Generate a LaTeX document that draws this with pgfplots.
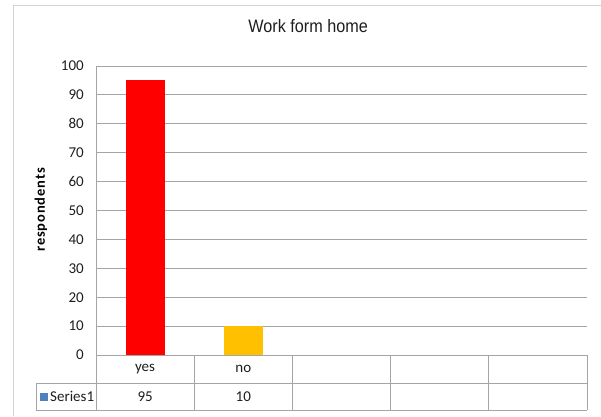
\documentclass[border=0pt]{standalone}
\usepackage{fontspec}
\setmainfont{Carlito}
\newfontfamily\titlefont{Liberation Sans}[FakeStretch=0.9]
\newfontfamily\labelfont{Carlito}[LetterSpace=6]
\usepackage{pgfplots}
\pgfplotsset{compat=1.18}
\definecolor{gridgray}{RGB}{165,165,165}
\definecolor{bordergray}{RGB}{210,210,210}
\definecolor{barred}{RGB}{255,0,0}
\definecolor{baryellow}{RGB}{255,192,0}
\definecolor{keyblue}{RGB}{79,129,189}
\definecolor{txt}{RGB}{30,30,30}
\begin{document}
\begin{tikzpicture}[x=1pt,y=1pt]
\useasboundingbox (0,0) rectangle (601,416);
\draw[bordergray, line width=1pt] (13,0) -- (13,410) -- (601,410);
\begin{axis}[
  at={(96pt,61pt)}, anchor=south west,
  width=491pt, height=289pt, scale only axis,
  xmin=-0.5, xmax=4.5, ymin=0, ymax=100,
  ytick={0,10,...,100}, xtick=\empty,
  axis x line*=bottom, axis y line*=left,
  axis line style={gridgray, line width=1pt, -},
  ymajorgrids, grid style={gridgray, line width=1pt},
  major tick length=0pt,
  /pgf/number format/assume math mode=true,
  yticklabel style={font=\fontsize{15}{17}\selectfont, text=txt, anchor=east, inner sep=0pt, xshift=-12pt},
  title={\titlefont Work form home},
  title style={at={(axis description cs:0.432,1.118)}, anchor=center, font=\fontsize{18}{21}\selectfont, text=txt},
  ylabel={\labelfont\bfseries respondents},
  ylabel style={at={(axis description cs:-0.112,0.502)}, anchor=center, font=\fontsize{14.5}{16}\selectfont, text=black},
  clip=false,
]
\addplot[ybar, bar width=39pt, bar shift=0pt, fill=barred, draw=none] coordinates {(0,95)};
\addplot[ybar, bar width=39pt, bar shift=0pt, fill=baryellow, draw=none] coordinates {(1,10)};
\end{axis}
% data table
\draw[gridgray, line width=1pt] (36,33) -- (587,33);
\draw[gridgray, line width=1pt] (36,6) -- (587,6);
\draw[gridgray, line width=1pt] (36,6) -- (36,33);
\foreach \x in {96,194.2,292.4,390.6,488.8,587} {
  \draw[gridgray, line width=1pt] (\x,61) -- (\x,6);
}
\begin{scope}[every node/.style={font=\fontsize{15}{17}\selectfont, text=txt, inner sep=0pt}]
\node at (145.1,47) {yes};
\node at (243.3,47) {no};
\node at (145.1,19.5) {95};
\node at (243.3,19.5) {10};
\fill[keyblue] (40,15.5) rectangle (48,23.5);
\node[anchor=west] at (50,19.5) {Series1};
\end{scope}
\end{tikzpicture}
\end{document}
